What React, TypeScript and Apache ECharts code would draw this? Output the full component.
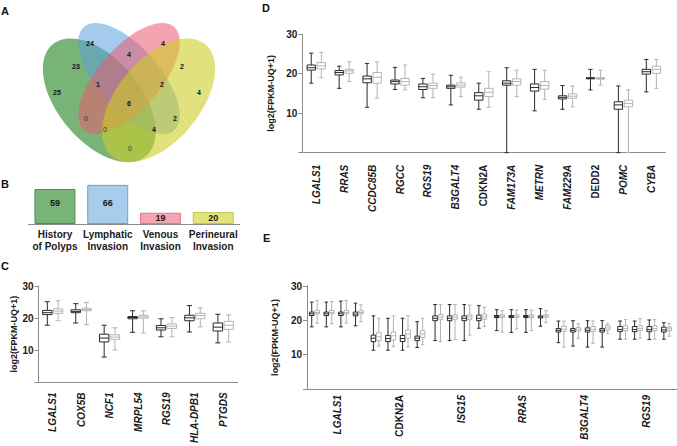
import React, { useEffect, useRef } from 'react';
import * as echarts from 'echarts';

const FONT = '"Liberation Sans", Arial, Helvetica, sans-serif';

// ---------- Panel A: Venn ----------
const VENN_SETS = ['History of Polyps', 'Lymphatic Invasion', 'Venous Invasion', 'Perineural Invasion'];
const VENN_FILLS = ['rgba(30,130,30,0.6)', 'rgba(90,160,220,0.55)', 'rgba(235,90,110,0.55)', 'rgba(205,205,40,0.6)'];
const VENN_COUNTS = [24, 4, 23, 4, 2, 25, 1, 2, 4, 6, 0, 2, 0, 4, 0];
const VENN_LABEL_POS = [
  [90, 43], [163, 43], [76, 66], [129, 54], [182, 66], [57, 92], [98, 84], [162, 84],
  [199, 92], [129, 103], [86, 118], [175, 118], [105, 129], [154, 129], [130, 148],
];

// ---------- Panel B ----------
const B_CATEGORIES = ['History\nof Polyps', 'Lymphatic\nInvasion', 'Venous\nInvasion', 'Perineural\nInvasion'];
const B_VALUES = [59, 66, 19, 20];
const B_COLORS = ['#78b478', '#a8cdec', '#f4a6b0', '#e3e37c'];
const B_BORDERS = ['#4f8f4f', '#6a9fd0', '#e27888', '#c4c44a'];

// ---------- Panel C ----------
const C_GENES = ['LGALS1', 'COX5B', 'NCF1', 'MRPL54', 'RGS19', 'HLA-DPB1', 'PTGDS'];
// [min, q1, median, q3, max]
const C_GROUP1 = [
  [17.8, 21.1, 21.7, 22.4, 25.1],
  [18.5, 21.7, 22.1, 22.6, 24.5],
  [7.9, 12.6, 13.8, 15.0, 17.8],
  [15.6, 19.8, 20.2, 20.5, 22.3],
  [14.2, 16.3, 17.0, 17.7, 19.8],
  [15.7, 19.2, 20.1, 20.9, 23.9],
  [12.3, 16.0, 17.2, 18.5, 21.2],
];
const C_GROUP2 = [
  [19.2, 21.5, 22.2, 22.9, 25.4],
  [18.0, 22.3, 22.7, 23.1, 24.9],
  [10.1, 13.4, 14.1, 14.8, 17.0],
  [15.4, 20.0, 20.4, 20.9, 22.3],
  [14.2, 16.8, 17.5, 18.2, 20.2],
  [17.3, 19.8, 20.8, 21.5, 23.2],
  [12.6, 16.5, 17.8, 19.0, 21.0],
];

// ---------- Panel D ----------
const D_GENES = ['LGALS1', 'RRAS', 'CCDC85B', 'RGCC', 'RGS19', 'B3GALT4', 'CDKN2A', 'FAM173A', 'METRN', 'FAM229A', 'DEDD2', 'POMC', 'CYBA'];
const D_GROUP1 = [
  [17.6, 20.9, 21.5, 22.2, 25.2],
  [16.3, 19.7, 20.3, 20.8, 21.9],
  [11.5, 17.7, 18.7, 19.4, 22.6],
  [16.0, 17.4, 18.0, 18.4, 21.6],
  [13.9, 16.0, 16.7, 17.4, 18.8],
  [12.1, 16.3, 16.7, 17.1, 19.6],
  [11.0, 13.3, 14.4, 15.2, 17.6],
  [0, 17.1, 17.6, 18.2, 21.5],
  [10.6, 15.6, 16.5, 17.4, 21.1],
  [11.0, 13.6, 14.0, 14.4, 17.0],
  [15.9, 18.7, 18.8, 19.0, 21.1],
  [0, 11.0, 12.1, 12.9, 16.9],
  [15.4, 19.9, 20.5, 21.1, 23.6],
];
const D_GROUP2 = [
  [19.0, 21.2, 22.0, 22.8, 25.4],
  [18.0, 20.1, 20.7, 21.1, 23.0],
  [13.8, 17.6, 19.1, 20.3, 23.0],
  [15.9, 17.1, 18.0, 18.8, 22.2],
  [14.0, 16.3, 17.0, 17.6, 19.9],
  [14.2, 16.6, 17.1, 17.7, 19.1],
  [11.5, 14.2, 15.3, 16.3, 20.5],
  [14.2, 17.1, 18.0, 18.7, 20.9],
  [13.5, 16.1, 17.0, 18.0, 20.9],
  [11.6, 13.8, 14.3, 14.9, 16.9],
  [17.1, 18.6, 18.8, 19.0, 20.9],
  [0, 11.6, 12.5, 13.3, 15.9],
  [16.3, 20.1, 21.1, 21.9, 23.6],
];

// ---------- Panel E ----------
const E_GENES = ['LGALS1', 'CDKN2A', 'ISG15', 'RRAS', 'B3GALT4', 'RGS19'];
// per gene: four comparisons, each [min, q1, median, q3, max]
const E_GROUP1 = [
  [[18.1, 21.4, 21.9, 22.4, 25.3], [18.1, 21.4, 21.9, 22.4, 25.3], [18.1, 21.4, 21.9, 22.4, 25.6], [18.4, 21.3, 21.8, 22.4, 25.0]],
  [[11.3, 13.8, 14.8, 15.7, 21.3], [11.3, 13.8, 14.7, 15.6, 20.6], [11.3, 13.8, 14.7, 15.6, 20.6], [12.1, 14.1, 14.8, 15.4, 19.6]],
  [[14.1, 19.9, 20.6, 21.3, 24.6], [14.1, 19.9, 20.6, 21.3, 24.6], [14.1, 19.9, 20.6, 21.3, 24.6], [17.7, 19.9, 20.6, 21.5, 24.3]],
  [[17.0, 20.8, 21.1, 21.4, 23.1], [16.5, 20.8, 21.1, 21.4, 23.1], [16.5, 20.8, 21.1, 21.4, 23.1], [18.3, 20.7, 21.0, 21.3, 23.4]],
  [[13.5, 16.6, 17.1, 17.6, 19.8], [12.5, 16.6, 17.1, 17.6, 19.9], [12.2, 16.6, 17.1, 17.8, 19.9], [12.2, 16.6, 17.1, 17.6, 19.9]],
  [[14.5, 16.7, 17.3, 18.2, 19.8], [14.5, 16.7, 17.3, 18.2, 19.8], [14.4, 16.7, 17.3, 18.2, 20.1], [14.5, 16.6, 17.2, 18.0, 19.3]],
];
const E_GROUP2 = [
  [[19.2, 21.9, 22.3, 22.9, 25.8], [19.0, 21.9, 22.3, 22.9, 25.5], [19.2, 21.9, 22.3, 22.9, 25.8], [19.6, 21.9, 22.3, 22.8, 24.5]],
  [[12.5, 14.1, 15.2, 16.4, 20.6], [12.4, 14.3, 15.5, 16.6, 21.3], [12.3, 14.8, 16.0, 17.2, 21.3], [12.9, 15.0, 16.0, 17.0, 20.6]],
  [[13.8, 20.3, 21.0, 21.7, 24.6], [14.4, 20.3, 21.0, 21.6, 24.6], [15.7, 20.3, 21.0, 21.6, 24.4], [18.2, 20.3, 21.0, 21.8, 23.8]],
  [[16.6, 20.8, 21.2, 21.6, 22.8], [17.5, 20.8, 21.2, 21.6, 23.0], [17.0, 20.8, 21.2, 21.6, 23.0], [19.3, 20.9, 21.3, 21.6, 22.8]],
  [[12.2, 16.8, 17.4, 18.3, 19.8], [14.8, 16.9, 17.4, 17.9, 19.0], [13.3, 16.8, 17.4, 18.2, 19.8], [16.2, 17.2, 17.8, 18.5, 19.0]],
  [[14.5, 17.0, 17.6, 18.4, 20.2], [14.8, 17.0, 17.6, 18.4, 20.5], [14.5, 17.0, 17.6, 18.4, 20.2], [15.4, 17.0, 17.5, 18.0, 19.1]],
];

const Y_TICKS = [0, 10, 20, 30];
const UPRIGHT = new Set(['CDKN2A', 'DEDD2']);
const DARK = '#2a2a2a';
const LIGHT = '#b4b4b4';
const AXIS = '#8c8c8c';
const TEXT = '#1a1a1a';

function boxSeries(axisIdx: number, rows: number[][], offset: number, width: number, cap: number, color: string, lw: number) {
  return {
    type: 'custom',
    xAxisIndex: axisIdx,
    yAxisIndex: axisIdx,
    data: rows.map((r, i) => [i, ...r]),
    encode: { x: 0, y: [1, 2, 3, 4, 5] },
    clip: false,
    silent: true,
    renderItem: (params: any, api: any) => {
      const c = api.value(0);
      const band = api.size([1, 0])[0];
      const x = api.coord([c, 0])[0] + offset * band;
      const w = width * band;
      const cw = cap * band;
      const y = [1, 2, 3, 4, 5].map((k) => api.coord([c, api.value(k)])[1]);
      const st = { stroke: color, lineWidth: lw, fill: null };
      return {
        type: 'group',
        children: [
          { type: 'line', shape: { x1: x, y1: y[0], x2: x, y2: y[1] }, style: st },
          { type: 'line', shape: { x1: x, y1: y[3], x2: x, y2: y[4] }, style: st },
          { type: 'line', shape: { x1: x - cw / 2, y1: y[0], x2: x + cw / 2, y2: y[0] }, style: st },
          { type: 'line', shape: { x1: x - cw / 2, y1: y[4], x2: x + cw / 2, y2: y[4] }, style: st },
          { type: 'rect', shape: { x: x - w / 2, y: y[3], width: w, height: y[1] - y[3] }, style: { stroke: color, lineWidth: lw, fill: '#fff' } },
          { type: 'line', shape: { x1: x - w / 2, y1: y[2], x2: x + w / 2, y2: y[2] }, style: st },
        ],
      };
    },
  };
}

function geneAxis(idx: number, genes: string[], margin: number) {
  return {
    type: 'category',
    gridIndex: idx,
    data: genes,
    boundaryGap: true,
    axisLine: { show: true, lineStyle: { color: AXIS, width: 1 } },
    axisTick: { show: false },
    axisLabel: {
      rotate: 90,
      margin,
      interval: 0,
      formatter: (v: string) => (UPRIGHT.has(v) ? `{u|${v}}` : `{i|${v}}`),
      rich: {
        i: { fontStyle: 'italic', fontWeight: 'bold', fontSize: 10, fontFamily: FONT, color: TEXT },
        u: { fontStyle: 'normal', fontWeight: 'bold', fontSize: 10, fontFamily: FONT, color: TEXT },
      },
    },
  };
}

function valueAxis(idx: number, nameGap: number) {
  return {
    type: 'value',
    gridIndex: idx,
    min: Y_TICKS[0],
    max: Y_TICKS[Y_TICKS.length - 1],
    interval: 10,
    name: 'log2(FPKM-UQ+1)',
    nameLocation: 'middle',
    nameGap,
    nameTextStyle: { fontWeight: 'bold', fontSize: 9, fontFamily: FONT, color: TEXT },
    axisLine: { show: true, lineStyle: { color: AXIS, width: 1 } },
    axisTick: { show: true, length: 4, lineStyle: { color: AXIS } },
    splitLine: { show: false },
    axisLabel: {
      margin: 5,
      fontWeight: 'bold',
      fontSize: 10,
      fontFamily: FONT,
      color: TEXT,
      formatter: (v: number) => (v === 0 ? '' : String(v)),
    },
  };
}

export default function App() {
  const ref = useRef<HTMLDivElement>(null);
  useEffect(() => {
    if (!ref.current) return;
    const chart = echarts.init(ref.current, null, { renderer: 'svg' });

    const vennEllipses = [
      { x: -0.15, y: 0.1, rx: 0.35, ry: 0.2, rot: -Math.PI / 4 },
      { x: 0, y: 0, rx: 0.33, ry: 0.15, rot: -Math.PI / 4 },
      { x: 0, y: 0, rx: 0.33, ry: 0.15, rot: Math.PI / 4 },
      { x: 0.15, y: 0.1, rx: 0.35, ry: 0.2, rot: Math.PI / 4 },
    ].map((e, i) => ({
      type: 'ellipse',
      x: e.x,
      y: e.y,
      rotation: e.rot,
      shape: { cx: 0, cy: 0, rx: e.rx, ry: e.ry },
      style: { fill: VENN_FILLS[i], stroke: null },
      name: VENN_SETS[i],
    }));

    const vennTexts = VENN_COUNTS.map((c, i) => ({
      type: 'text',
      x: VENN_LABEL_POS[i][0],
      y: VENN_LABEL_POS[i][1],
      style: {
        text: String(c),
        fill: c === 0 ? '#333' : '#111',
        font: `${c === 0 ? 'normal' : 'bold'} 7px ${FONT}`,
        textAlign: 'center',
        textVerticalAlign: 'middle',
      },
    }));

    const letters = [
      ['A', 1, 11],
      ['B', 1, 184],
      ['C', 1, 266],
      ['D', 262, 8],
      ['E', 263, 238],
    ].map(([t, x, y]) => ({
      type: 'text',
      x: x as number,
      y: y as number,
      style: { text: t as string, fill: '#111', font: `bold 11px ${FONT}`, textVerticalAlign: 'middle' },
    }));

    const ePairCenters = [-0.379, -0.143, 0.094, 0.331];
    const eSeries: any[] = [];
    ePairCenters.forEach((pc, k) => {
      eSeries.push(boxSeries(3, E_GROUP1.map((g) => g[k]), pc - 0.044, 0.075, 0.06, DARK, 1));
      eSeries.push(boxSeries(3, E_GROUP2.map((g) => g[k]), pc + 0.044, 0.075, 0.06, LIGHT, 1));
    });

    chart.setOption({
      animation: false,
      backgroundColor: '#fff',
      textStyle: { fontFamily: FONT },
      grid: [
        { left: 28.6, top: 182.5, width: 211, height: 41.5 },
        { left: 38.5, top: 286, width: 199, height: 101.3 },
        { left: 302.3, top: 34.2, width: 363, height: 118.5 },
        { left: 307, top: 286, width: 370, height: 103 },
      ],
      xAxis: [
        {
          type: 'category',
          gridIndex: 0,
          data: B_CATEGORIES,
          axisLine: { show: true, lineStyle: { color: AXIS } },
          axisTick: { show: false },
          axisLabel: { margin: 4, fontWeight: 'bold', fontSize: 10, lineHeight: 12, color: TEXT, fontFamily: FONT, interval: 0 },
        },
        geneAxis(1, C_GENES, 10),
        geneAxis(2, D_GENES, 12),
        geneAxis(3, E_GENES, 6),
      ],
      yAxis: [
        { type: 'value', gridIndex: 0, min: 0, max: 70, show: false, splitLine: { show: false } },
        valueAxis(1, 19),
        valueAxis(2, 24),
        valueAxis(3, 24),
      ],
      series: [
        {
          type: 'bar',
          xAxisIndex: 0,
          yAxisIndex: 0,
          barWidth: 41,
          data: B_VALUES.map((v, i) => ({
            value: v,
            itemStyle: { color: B_COLORS[i], borderColor: B_BORDERS[i], borderWidth: 1 },
            label: { position: v > 40 ? 'insideBottom' : 'inside', distance: 17 },
          })),
          label: { show: true, fontWeight: 'bold', fontSize: 9, color: TEXT, fontFamily: FONT },
        },
        boxSeries(1, C_GROUP1, -0.19, 0.33, 0.18, DARK, 1),
        boxSeries(1, C_GROUP2, 0.19, 0.33, 0.18, LIGHT, 1),
        boxSeries(2, D_GROUP1, -0.18, 0.3, 0.15, DARK, 1),
        boxSeries(2, D_GROUP2, 0.18, 0.3, 0.15, LIGHT, 1),
        ...eSeries,
      ],
      graphic: [
        {
          type: 'group',
          x: 129,
          y: 78.6,
          scaleX: 198,
          scaleY: 217,
          silent: true,
          children: vennEllipses,
        },
        ...vennTexts,
        ...letters,
      ],
    });
    return () => chart.dispose();
  }, []);
  return <div ref={ref} style={{ position: 'fixed', left: 0, top: 0, width: 677, height: 446, background: '#fff' }} />;
}
